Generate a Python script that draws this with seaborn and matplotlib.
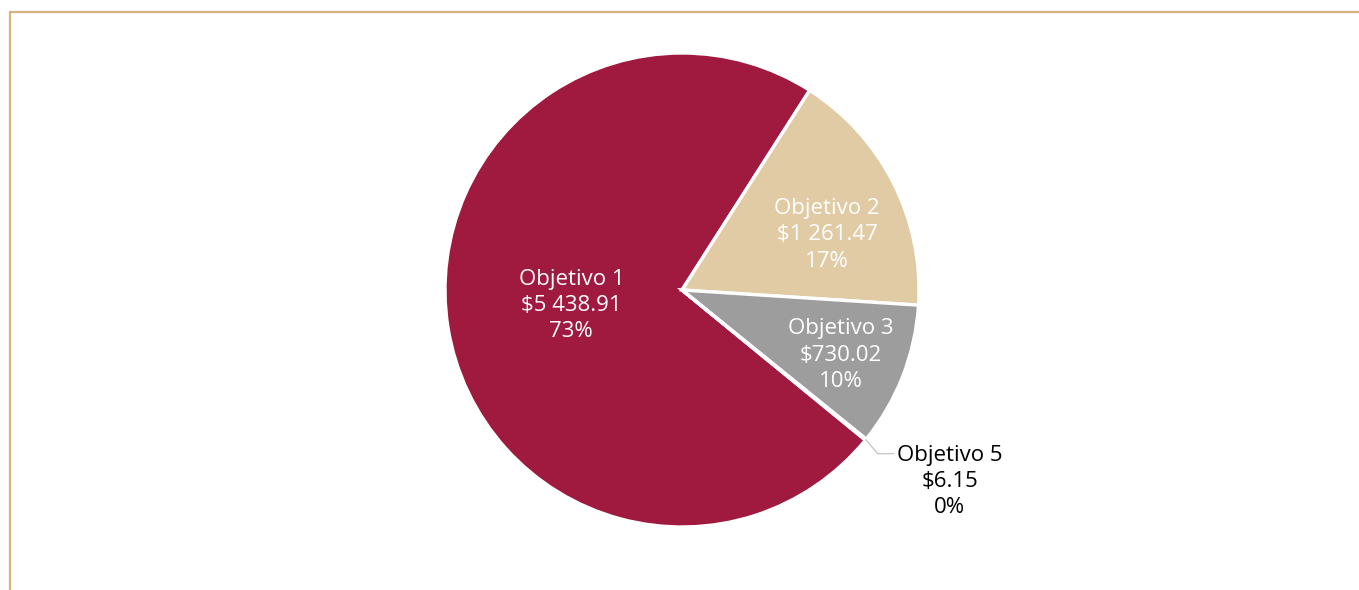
import numpy as np
import matplotlib
matplotlib.use("Agg")
import matplotlib.pyplot as plt
import seaborn as sns
from matplotlib.lines import Line2D

categories = ["Objetivo 1", "Objetivo 2", "Objetivo 3", "Objetivo 5"]
values = [5438.91, 1261.47, 730.02, 6.15]
value_labels = ["$5 438.91", "$1 261.47", "$730.02", "$6.15"]
pct_labels = ["73%", "17%", "10%", "0%"]
colors = ["#A0193F", "#E0CBA5", "#9D9D9D", "#6E6E6E"]

sns.set_theme(style="white")
plt.rcParams["font.family"] = ["Open Sans", "DejaVu Sans"]

W, H = 1359, 590
fig = plt.figure(figsize=(W / 100, H / 100), dpi=100)

# Pie axes: center (682, 290) px, radius 237 px
cx, cy, r = 682, 290, 237
ax = fig.add_axes([(cx - r) / W, (H - cy - r) / H, 2 * r / W, 2 * r / H])

total = sum(values)
start = 57.4 + 360 * values[0] / total  # Objetivo 1 ends at ~57.4 deg going clockwise
wedges, _ = ax.pie(values, colors=colors, startangle=start, counterclock=False,
                   radius=1.0, center=(0, 0),
                   wedgeprops=dict(edgecolor="white", linewidth=2.4))
ax.set_xlim(-1, 1)
ax.set_ylim(-1, 1)
ax.set_aspect("equal")
ax.axis("off")

FS = 16
LS = 1.33
# label placement (radial distance, angle offset) per wedge
placement = [(0.47, -2.5), (0.66, -5.0), (0.72, 0.0)]
for i, w in enumerate(wedges[:3]):
    mid = (w.theta1 + w.theta2) / 2
    d, off = placement[i]
    a = np.deg2rad(mid + off)
    ax.text(d * np.cos(a), d * np.sin(a) - 3 / r,
            f"{categories[i]}\n{value_labels[i]}\n{pct_labels[i]}",
            ha="center", va="center", color="white", fontsize=FS,
            linespacing=LS, clip_on=False)

# small slice: leader line + external label
w = wedges[3]
mid = np.deg2rad((w.theta1 + w.theta2) / 2)
x0, y0 = np.cos(mid) * 1.0, np.sin(mid) * 1.0
x1, y1 = x0 + 12 / r, y0 - 14 / r
x2 = x1 + 16 / r
ax.add_line(Line2D([x0, x1, x2], [y0, y1, y1], color="#C8C8C8", lw=1.0, clip_on=False))
ax.text(x2 + 3 / r, y1 + 9 / r, f"{categories[3]}\n{value_labels[3]}\n{pct_labels[3]}",
        ha="left", va="top", color="black", fontsize=FS, linespacing=LS,
        multialignment="center", clip_on=False)

# Border (top and left visible)
border = "#D6B47F"
fig.add_artist(Line2D([10 / W, 1.0], [1 - 12 / H, 1 - 12 / H], color=border, lw=1.6,
                      transform=fig.transFigure))
fig.add_artist(Line2D([10 / W, 10 / W], [0, 1 - 12 / H], color=border, lw=1.6,
                      transform=fig.transFigure))

fig.savefig("out.png", dpi=100, facecolor="white")
